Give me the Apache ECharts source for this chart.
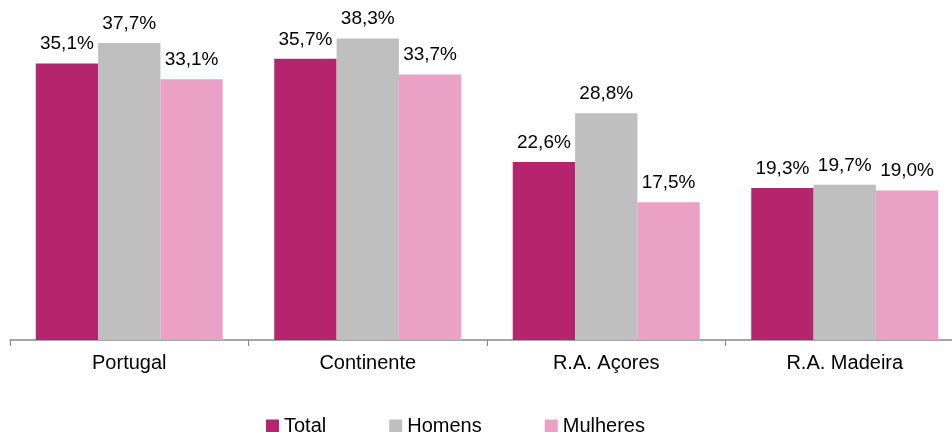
<!DOCTYPE html>
<html><head><meta charset="utf-8">
<script src="https://cdn.jsdelivr.net/npm/echarts@6/dist/echarts.min.js"></script>
<style>html,body{margin:0;padding:0;background:#fff;overflow:hidden;width:952px;height:432px}#c{width:964px;height:432px}</style>
</head><body><div id="c"></div>
<script>
const categories = ['Portugal', 'Continente', 'R.A. Açores', 'R.A. Madeira'];
const seriesNames = ['Total', 'Homens', 'Mulheres'];
const total = [35.1, 35.7, 22.6, 19.3];
const homens = [37.7, 38.3, 28.8, 19.7];
const mulheres = [33.1, 33.7, 17.5, 19.0];
const colors = ['#B4256E', '#BFBFBF', '#EBA0C6'];

const font = 'Liberation Sans, Arial, sans-serif';
const chart = echarts.init(document.getElementById('c'));
const mk = (name, data, color) => ({
  name, type: 'bar', data, barGap: '0%', barCategoryGap: '21.6%',
  itemStyle: { color },
  label: { show: true, position: 'top', distance: 10, color: '#000', fontFamily: font, fontSize: 19,
    formatter: p => p.value.toFixed(1).replace('.', ',') + '%' }
});
chart.setOption({
  animation: false,
  grid: { left: 10, right: 0, top: 25, bottom: 92 },
  legend: {
    data: seriesNames, left: 266, top: 416, padding: 0, itemWidth: 13, itemHeight: 13, itemGap: 63,
    icon: 'rect', textStyle: { fontFamily: font, fontSize: 20, color: '#000' }
  },
  xAxis: {
    type: 'category', data: categories,
    axisLine: { lineStyle: { color: '#888', width: 1.5 } },
    axisTick: { show: true, length: 6, lineStyle: { color: '#888' } },
    axisLabel: { fontFamily: font, fontSize: 20, color: '#000', margin: 13 }
  },
  yAxis: { type: 'value', min: 0, max: 40, show: false, splitLine: { show: false } },
  series: [mk(seriesNames[0], total, colors[0]), mk(seriesNames[1], homens, colors[1]), mk(seriesNames[2], mulheres, colors[2])]
});
</script></body></html>
